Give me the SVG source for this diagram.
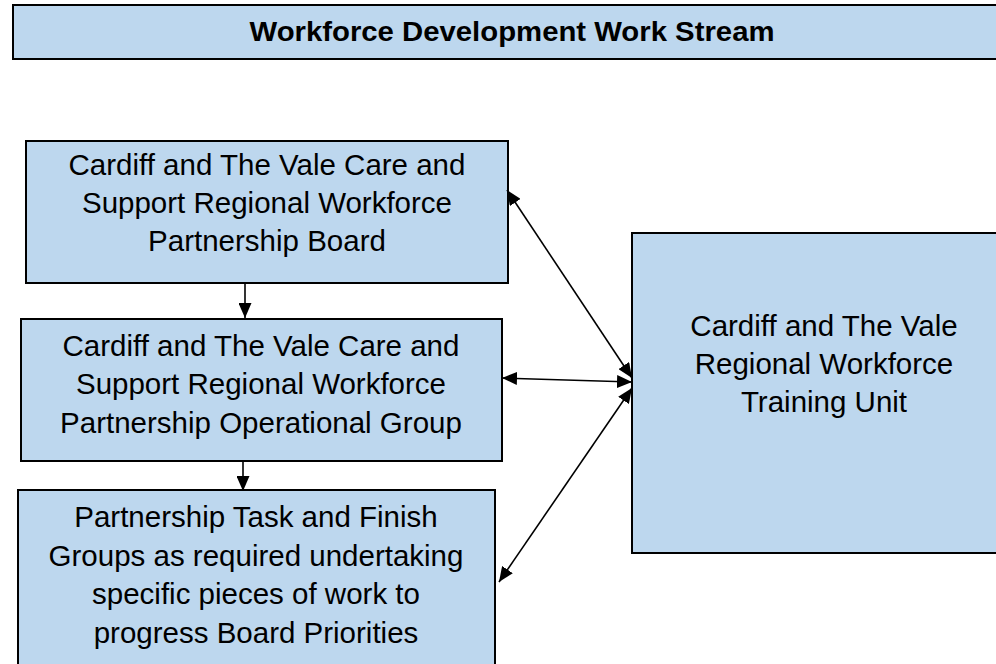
<svg xmlns="http://www.w3.org/2000/svg" width="996" height="664" viewBox="0 0 996 664">
  <style>
    .box { fill: #BDD7EE; stroke: #000; stroke-width: 2; }
    .label { font-family: "Liberation Sans", Arial, sans-serif; font-size: 29.5px; fill: #000; text-anchor: middle; }
    .title { font-family: "Liberation Sans", Arial, sans-serif; font-size: 27px; font-weight: bold; fill: #000; text-anchor: middle; }
    .link { stroke: #000; stroke-width: 1.6; fill: none; }
  </style>
  <defs>
    <marker id="arrow" viewBox="0 0 15 13" refX="15" refY="6.5" markerWidth="15" markerHeight="13" markerUnits="userSpaceOnUse" orient="auto-start-reverse">
      <path d="M0,0 L15,6.5 L0,13 z" fill="#000"/>
    </marker>
  </defs>

  <rect width="996" height="664" fill="#fff"/>

  <g id="title">
    <rect class="box" x="13" y="5" width="1000" height="54"/>
    <text class="title" x="512" y="41" textLength="525" lengthAdjust="spacingAndGlyphs">Workforce Development Work Stream</text>
  </g>

  <g id="board">
    <rect class="box" x="26" y="141" width="482" height="142"/>
    <text class="label" x="267" y="175">Cardiff and The Vale Care and</text>
    <text class="label" x="267" y="213">Support Regional Workforce</text>
    <text class="label" x="267" y="251">Partnership Board</text>
  </g>

  <g id="operational-group">
    <rect class="box" x="21" y="319" width="481" height="142"/>
    <text class="label" x="261" y="356">Cardiff and The Vale Care and</text>
    <text class="label" x="261" y="394">Support Regional Workforce</text>
    <text class="label" x="261" y="433">Partnership Operational Group</text>
  </g>

  <g id="task-groups">
    <rect class="box" x="18" y="490" width="477" height="190"/>
    <text class="label" x="256" y="527">Partnership Task and Finish</text>
    <text class="label" x="256" y="566">Groups as required undertaking</text>
    <text class="label" x="256" y="604">specific pieces of work to</text>
    <text class="label" x="256" y="643">progress Board Priorities</text>
  </g>

  <g id="training-unit">
    <rect class="box" x="632" y="233" width="390" height="320"/>
    <text class="label" x="824" y="336">Cardiff and The Vale</text>
    <text class="label" x="824" y="374">Regional Workforce</text>
    <text class="label" x="824" y="412">Training Unit</text>
  </g>

  <g id="connectors">
    <line class="link" x1="245" y1="284" x2="245" y2="318" marker-end="url(#arrow)"/>
    <line class="link" x1="243" y1="462" x2="243" y2="491" marker-end="url(#arrow)"/>
    <line class="link" x1="507" y1="190" x2="632" y2="378" marker-start="url(#arrow)" marker-end="url(#arrow)"/>
    <line class="link" x1="502" y1="378" x2="632" y2="382" marker-start="url(#arrow)" marker-end="url(#arrow)"/>
    <line class="link" x1="499" y1="582" x2="632" y2="388" marker-start="url(#arrow)" marker-end="url(#arrow)"/>
  </g>
</svg>
